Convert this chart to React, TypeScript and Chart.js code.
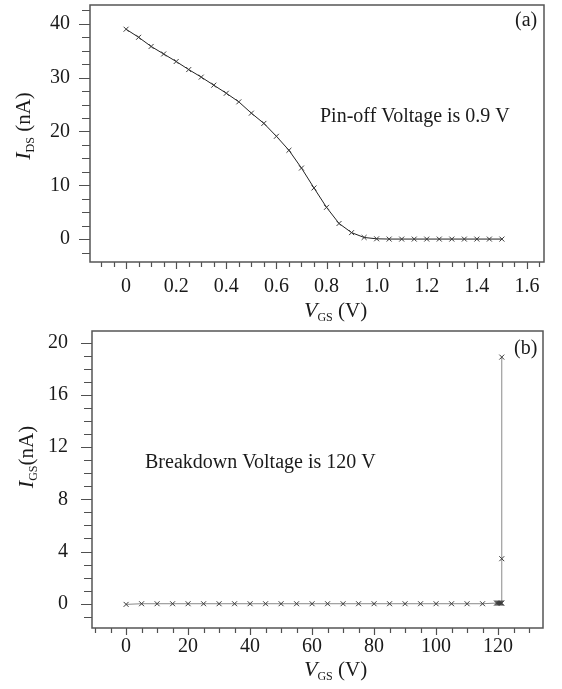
import React, { useEffect, useRef } from "react";
import { Chart, registerables } from "chart.js";
Chart.register(...registerables);

const FONT = '"Liberation Serif", "DejaVu Serif", serif';

// ---------- Panel (a): I_DS vs V_GS ----------
const vgsA = [0, 0.05, 0.1, 0.15, 0.2, 0.25, 0.3, 0.35, 0.4, 0.45, 0.5, 0.55, 0.6, 0.65, 0.7, 0.75, 0.8, 0.85, 0.9, 0.95, 1.0, 1.05, 1.1, 1.15, 1.2, 1.25, 1.3, 1.35, 1.4, 1.45, 1.5];
const idsA = [39.0, 37.5, 35.8, 34.4, 33.0, 31.5, 30.1, 28.6, 27.1, 25.5, 23.4, 21.5, 19.1, 16.5, 13.2, 9.5, 5.9, 2.9, 1.2, 0.3, 0.05, 0, 0, 0, 0, 0, 0, 0, 0, 0, 0];
const xTickValsA = [0, 0.2, 0.4, 0.6, 0.8, 1.0, 1.2, 1.4, 1.6];
const xTickLabelsA = ["0", "0.2", "0.4", "0.6", "0.8", "1.0", "1.2", "1.4", "1.6"];
const yTickValsA = [0, 10, 20, 30, 40];
const yTickLabelsA = ["0", "10", "20", "30", "40"];

// ---------- Panel (b): I_GS vs V_GS ----------
const vgsB = [0, 5, 10, 15, 20, 25, 30, 35, 40, 45, 50, 55, 60, 65, 70, 75, 80, 85, 90, 95, 100, 105, 110, 115, 119.5, 119.8, 120.1, 120.4, 120.7, 121.0, 121.2, 121.2, 121.2];
const igsB = [-0.05, 0, 0, 0, 0, 0, 0, 0, 0, 0, 0, 0, 0, 0, 0, 0, 0, 0, 0, 0, 0, 0, 0, 0, 0.05, 0.05, 0.05, 0.05, 0.05, 0.05, 0.05, 3.45, 18.9];
const xTickValsB = [0, 20, 40, 60, 80, 100, 120];
const xTickLabelsB = ["0", "20", "40", "60", "80", "100", "120"];
const yTickValsB = [0, 4, 8, 12, 16, 20];
const yTickLabelsB = ["0", "4", "8", "12", "16", "20"];

const W = 562;
const HA = 325;
const HB = 364;

type Part = { text: string; font: string; dy: number };

function drawParts(ctx: CanvasRenderingContext2D, parts: Part[], cx: number, baseY: number, align: "center" | "left") {
  let total = 0;
  const widths = parts.map((p) => {
    ctx.font = p.font;
    const w = ctx.measureText(p.text).width;
    total += w;
    return w;
  });
  let x = align === "center" ? cx - total / 2 : cx;
  parts.forEach((p, i) => {
    ctx.font = p.font;
    ctx.textAlign = "left";
    ctx.textBaseline = "alphabetic";
    ctx.fillText(p.text, x, baseY + p.dy);
    x += widths[i];
  });
}

const decorPlugin = {
  id: "decor",
  afterDraw(chart: any, _args: any, o: any) {
    const { ctx, chartArea: a } = chart;
    const xs = chart.scales.x;
    const ys = chart.scales.y;
    ctx.save();
    ctx.strokeStyle = "#505050";
    ctx.lineWidth = 1.2;
    ctx.beginPath();
    const xStart = Math.ceil(xs.min / o.xMinor - 1e-9);
    for (let i = xStart; i * o.xMinor <= xs.max + 1e-9; i++) {
      const v = i * o.xMinor;
      const px = Math.round(xs.getPixelForValue(v)) + 0.5;
      const r = v / o.xMajor;
      const major = Math.abs(r - Math.round(r)) < 1e-6;
      ctx.moveTo(px, a.bottom);
      ctx.lineTo(px, a.bottom + (major ? o.xMajorLen : o.xMinorLen));
    }
    const yStart = Math.ceil(ys.min / o.yMinor - 1e-9);
    for (let i = yStart; i * o.yMinor <= ys.max + 1e-9; i++) {
      const v = i * o.yMinor;
      const py = Math.round(ys.getPixelForValue(v)) + 0.5;
      const r = v / o.yMajor;
      const major = Math.abs(r - Math.round(r)) < 1e-6;
      ctx.moveTo(a.left, py);
      ctx.lineTo(a.left - (major ? o.yMajorLen : o.yMinorLen), py);
    }
    ctx.stroke();
    ctx.lineWidth = 1.5;
    ctx.strokeStyle = "#555";
    ctx.strokeRect(a.left, a.top, a.right - a.left, a.bottom - a.top);

    ctx.fillStyle = "#1a1a1a";
    // x title
    drawParts(
      ctx,
      [
        { text: "V", font: `italic 22px ${FONT}`, dy: 0 },
        { text: "GS", font: `12px ${FONT}`, dy: 4 },
        { text: " (V)", font: `21px ${FONT}`, dy: 0 },
      ],
      o.xTitleX,
      o.xTitleY,
      "left"
    );
    // y title (rotated)
    ctx.save();
    ctx.translate(o.yTitleX, o.yTitleY);
    ctx.rotate(-Math.PI / 2);
    drawParts(
      ctx,
      [
        { text: "I", font: `italic 22px ${FONT}`, dy: 0 },
        { text: o.ySub, font: `12px ${FONT}`, dy: 4 },
        { text: o.yGap + "(nA)", font: `21px ${FONT}`, dy: 0 },
      ],
      0,
      7,
      "center"
    );
    ctx.restore();
    // annotations
    (o.texts || []).forEach((t: any) => {
      ctx.font = `${t.size}px ${FONT}`;
      ctx.textAlign = "left";
      ctx.textBaseline = "alphabetic";
      ctx.fillText(t.text, t.x, t.y);
    });
    ctx.restore();
  },
};

function makeConfig(p: any) {
  return {
    type: "scatter",
    data: {
      datasets: [
        {
          data: p.xs.map((x: number, i: number) => ({ x, y: p.ys[i] })),
          showLine: true,
          borderColor: p.lineColor,
          borderWidth: 1,
          pointStyle: "crossRot",
          pointRadius: 3.5,
          pointBorderColor: "#3a3a3a",
          pointBorderWidth: 1,
          pointBackgroundColor: "#3a3a3a",
          tension: 0,
        },
      ],
    },
    options: {
      animation: false,
      responsive: false,
      layout: { padding: { top: p.padTop, right: p.padRight, left: 0, bottom: 0 } },
      plugins: { legend: { display: false }, tooltip: { enabled: false }, decor: p.decor },
      scales: {
        x: {
          type: "linear",
          min: p.xMin,
          max: p.xMax,
          afterFit: (s: any) => {
            s.height = p.xAxisH;
            s.paddingLeft = 0;
            s.paddingRight = 0;
            s.paddingTop = 0;
            s.paddingBottom = 0;
          },
          afterBuildTicks: (s: any) => {
            s.ticks = p.xTickVals.map((v: number) => ({ value: v }));
          },
          grid: { display: false, drawTicks: false },
          border: { display: false },
          ticks: {
            padding: p.xPad,
            autoSkip: false,
            maxRotation: 0,
            color: "#1a1a1a",
            font: { family: FONT, size: 20 },
            callback: (v: number) => p.xTickLabels[p.xTickVals.findIndex((t: number) => Math.abs(t - v) < 1e-9)],
          },
        },
        y: {
          type: "linear",
          min: p.yMin,
          max: p.yMax,
          afterFit: (s: any) => {
            s.width = p.yAxisW;
            s.paddingLeft = 0;
            s.paddingRight = 0;
            s.paddingTop = 0;
            s.paddingBottom = 0;
          },
          afterBuildTicks: (s: any) => {
            s.ticks = p.yTickVals.map((v: number) => ({ value: v }));
          },
          grid: { display: false, drawTicks: false },
          border: { display: false },
          ticks: {
            padding: p.yPad,
            autoSkip: false,
            color: "#1a1a1a",
            font: { family: FONT, size: 20 },
            callback: (v: number) => p.yTickLabels[p.yTickVals.findIndex((t: number) => Math.abs(t - v) < 1e-9)],
          },
        },
      },
    },
    plugins: [decorPlugin],
  };
}

export default function App() {
  const refA = useRef<HTMLCanvasElement>(null);
  const refB = useRef<HTMLCanvasElement>(null);
  useEffect(() => {
    const cA = new Chart(
      refA.current as HTMLCanvasElement,
      makeConfig({
        xs: vgsA,
        ys: idsA,
        lineColor: "#222",
        padTop: 4,
        padRight: 18,
        xMin: -0.144,
        xMax: 1.668,
        yMin: -4.26,
        yMax: 43.5,
        xAxisH: HA - 262,
        yAxisW: 90,
        xPad: 13,
        yPad: 20,
        xTickVals: xTickValsA,
        xTickLabels: xTickLabelsA,
        yTickVals: yTickValsA,
        yTickLabels: yTickLabelsA,
        decor: {
          xMinor: 0.05,
          xMajor: 0.2,
          yMinor: 2.5,
          yMajor: 10,
          xMajorLen: 7,
          xMinorLen: 5,
          yMajorLen: 11,
          yMinorLen: 8,
          xTitleX: 304,
          xTitleY: 317,
          yTitleX: 23,
          yTitleY: 126,
          ySub: "DS",
          yGap: " ",
          texts: [
            { text: "Pin-off Voltage is 0.9 V", x: 320, y: 122, size: 20 },
            { text: "(a)", x: 515, y: 26, size: 20 },
          ],
        },
      }) as any
    );
    const cB = new Chart(
      refB.current as HTMLCanvasElement,
      makeConfig({
        xs: vgsB,
        ys: igsB,
        lineColor: "#8a8a8a",
        padTop: 6,
        padRight: 19,
        xMin: -11,
        xMax: 134.5,
        yMin: -1.86,
        yMax: 20.9,
        xAxisH: HB - 303,
        yAxisW: 92,
        xPad: 7,
        yPad: 24,
        xTickVals: xTickValsB,
        xTickLabels: xTickLabelsB,
        yTickVals: yTickValsB,
        yTickLabels: yTickLabelsB,
        decor: {
          xMinor: 5,
          xMajor: 20,
          yMinor: 1,
          yMajor: 4,
          xMajorLen: 7,
          xMinorLen: 5,
          yMajorLen: 11,
          yMinorLen: 8,
          xTitleX: 304,
          xTitleY: 351,
          yTitleX: 26,
          yTitleY: 132,
          ySub: "GS",
          yGap: "",
          texts: [
            { text: "Breakdown Voltage is 120 V", x: 145, y: 143, size: 20 },
            { text: "(b)", x: 514, y: 29, size: 20 },
          ],
        },
      }) as any
    );
    return () => {
      cA.destroy();
      cB.destroy();
    };
  }, []);
  return (
    <div style={{ position: "fixed", left: 0, top: 0, width: W, height: HA + HB, background: "#fff" }}>
      <canvas ref={refA} width={W} height={HA} style={{ display: "block", width: W, height: HA }} />
      <canvas ref={refB} width={W} height={HB} style={{ display: "block", width: W, height: HB }} />
    </div>
  );
}
